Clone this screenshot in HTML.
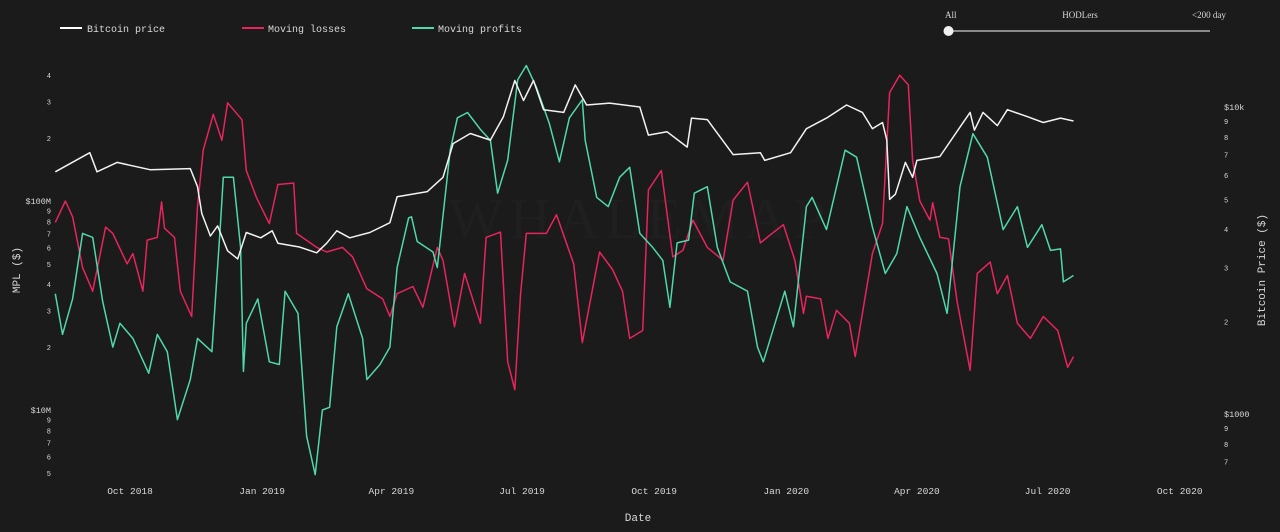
<!DOCTYPE html>
<html><head><meta charset="utf-8"><style>
html,body{margin:0;padding:0;background:#1b1b1b;}
svg{display:block;}
text{font-family:"Liberation Mono","DejaVu Sans Mono",monospace;fill:#d8d8d8;}
</style></head><body>
<svg id="chart" width="1280" height="532" viewBox="0 0 1280 532" xmlns="http://www.w3.org/2000/svg">
<rect width="1280" height="532" fill="#1b1b1b"/>
<text x="640" y="238" text-anchor="middle" style="font-family:'Liberation Serif',serif;font-size:58px;fill:#1f1f1f;letter-spacing:6px">WHALEMAP</text>
<g>
 <g><line x1="60" y1="28" x2="82" y2="28" stroke="#ffffff" stroke-width="2"/><text x="87" y="32" font-size="10">Bitcoin price</text></g>
 <g><line x1="242" y1="28" x2="264" y2="28" stroke="#e8245c" stroke-width="2"/><text x="268" y="32" font-size="10">Moving losses</text></g>
 <g><line x1="412" y1="28" x2="434" y2="28" stroke="#4fd8ab" stroke-width="2"/><text x="438" y="32" font-size="10">Moving profits</text></g>
</g>
<g>
 <text x="945" y="18" font-size="9" style="font-family:'Liberation Serif',serif">All</text>
 <text x="1080" y="18" font-size="9" text-anchor="middle" style="font-family:'Liberation Serif',serif">HODLers</text>
 <text x="1192" y="18" font-size="9" style="font-family:'Liberation Serif',serif">&lt;200 day</text>
 <line x1="948" y1="31" x2="1210" y2="31" stroke="#8a8a8a" stroke-width="2"/>
 <circle cx="948.5" cy="31" r="5" fill="#f0f0f0"/>
</g>
<g id="axes"></g>
<g id="series"></g>
<text transform="translate(20,270) rotate(-90)" text-anchor="middle" font-size="11">MPL ($)</text>
<text transform="translate(1265,270) rotate(-90)" text-anchor="middle" font-size="11">Bitcoin Price ($)</text>
<text x="638" y="521" text-anchor="middle" font-size="11">Date</text>
</svg>
<script>
// days offset from 2018-10-01
const xTickLabels = ["Oct 2018","Jan 2019","Apr 2019","Jul 2019","Oct 2019","Jan 2020","Apr 2020","Jul 2020","Oct 2020"];
const xTickDays = [0,92,182,273,365,457,548,639,731];
const leftTickValues = [5,6,7,8,9,10,20,30,40,50,60,70,80,90,100,200,300,400];
const leftTickLabels = ["5","6","7","8","9","$10M","2","3","4","5","6","7","8","9","$100M","2","3","4"];
const rightTickValues = [700,800,900,1000,2000,3000,4000,5000,6000,7000,8000,9000,10000];
const rightTickLabels = ["7","8","9","$1000","2","3","4","5","6","7","8","9","$10k"];

const btcDays = [-52,-28,-23,-9,14,42,47,50,56,61,68,75,81,91,99,103,118,130,137,144,153,167,181,186,207,218,225,237,251,260,268,274,281,288,302,310,318,334,355,361,374,388,391,402,420,439,442,460,471,485,499,510,517,524,527,529,533,540,545,548,564,578,585,588,594,604,611,625,636,648,657];
const btcPrice = [6150,7100,6150,6600,6250,6300,5500,4500,3800,4100,3400,3200,3900,3750,3950,3600,3500,3350,3600,3950,3750,3900,4200,5100,5300,5900,7600,8200,7800,9300,12200,10500,12200,9800,9600,11800,10150,10300,10000,8100,8300,7400,9200,9100,7000,7100,6700,7100,8500,9200,10150,9600,8500,8900,7800,5000,5200,6600,5900,6700,6900,8600,9600,8400,9600,8700,9800,9300,8900,9200,9000];

const lossDays = [-52,-45,-40,-33,-26,-17,-12,-2,2,9,12,19,22,24,31,35,43,47,51,58,64,68,78,81,88,97,103,114,116,130,137,148,155,165,176,181,186,197,204,214,218,226,233,244,248,258,263,268,272,276,290,297,309,315,327,336,343,348,357,361,370,378,385,392,402,413,420,430,439,446,455,463,469,471,481,486,492,501,505,510,517,524,529,536,542,545,550,557,559,564,570,576,585,590,599,604,611,618,627,636,646,653,657];
const lossValues = [79,100,84,48,37,75,70,50,56,37,65,67,99,74,67,37,28,94,175,260,195,295,245,140,104,78,120,122,70,60,57,60,54,38,34,28,36,39,31,60,52,25,45,26,67,71,17,12.5,36,70,70,86,50,21,57,47,37,22,24,113,140,54,58,81,60,52,101,123,63,69,77,52,29,35,34,22,30,26,18,29,56,78,330,400,360,157,100,81,98,67,66,33,15.5,45,51,36,44,26,22,28,24,16,18];

const profitDays = [-52,-47,-40,-33,-26,-19,-12,-7,2,13,19,26,33,42,47,57,63,65,72,77,79,81,89,97,104,108,117,123,129,134,139,144,152,162,165,174,181,186,194,196,200,211,214,223,228,235,244,251,256,263,270,276,283,292,299,306,315,317,325,333,341,348,355,364,371,376,381,389,393,402,409,418,430,437,441,456,462,471,475,485,498,506,517,526,534,541,550,562,569,578,587,597,608,618,625,635,641,648,650,657];
const profitValues = [36,23,34,70,67,33,20,26,22,15,23,19,9,14,22,19,78,130,130,60,15.3,26,34,17,16.5,37,29,7.5,4.9,10,10.3,25,36,22,14,16.5,20,48,83,84,64,57,48,175,250,265,220,195,109,157,380,445,350,235,154,250,305,195,104,94,130,145,70,60,52,31,63,65,109,117,60,41,37,20,17,37,25,94,104,73,175,162,75,45,56,94,67,45,29,117,210,162,73,94,60,77,58,59,41,44];

const NS='http://www.w3.org/2000/svg';
const xScale = d => 130 + d*1.436;
const yLeft = v => 201 - 209*Math.log10(v/100);
const yRight = v => 107 - 307*Math.log10(v/10000);
const axes = document.getElementById('axes');
const series = document.getElementById('series');

function mkText(x,y,str,size,anchor){
  const t=document.createElementNS(NS,'text');
  t.setAttribute('x',x);t.setAttribute('y',y);
  t.setAttribute('font-size',size);t.setAttribute('text-anchor',anchor);
  t.textContent=str;return t;
}
xTickDays.forEach((d,i)=>{
  const t=mkText(xScale(d),494,xTickLabels[i],9.5,'middle');
  
  
  axes.appendChild(t);
});
leftTickValues.forEach((v,i)=>{
  const big=leftTickLabels[i].length>1;
  const t=mkText(51,yLeft(v)+3,leftTickLabels[i],big?8.5:7,'end');
  
  
  axes.appendChild(t);
});
rightTickValues.forEach((v,i)=>{
  const big=rightTickLabels[i].length>1;
  const t=mkText(1224,yRight(v)+3,rightTickLabels[i],big?8.5:7,'start');
  
  
  axes.appendChild(t);
});
function line(days,vals,yf,color,name){
  const p=document.createElementNS(NS,'path');
  p.setAttribute('d',days.map((d,i)=>(i?'L':'M')+xScale(d).toFixed(1)+','+yf(vals[i]).toFixed(1)).join(''));
  p.setAttribute('fill','none');p.setAttribute('stroke',color);
  p.setAttribute('stroke-width','1.5');p.setAttribute('stroke-linejoin','round');
  
  
  series.appendChild(p);
}
line(lossDays,lossValues,yLeft,'#e8245c','moving-losses-line');
line(profitDays,profitValues,yLeft,'#4fd8ab','moving-profits-line');
line(btcDays,btcPrice,yRight,'#f2f2f2','bitcoin-price-line');
</script>
</body></html>
